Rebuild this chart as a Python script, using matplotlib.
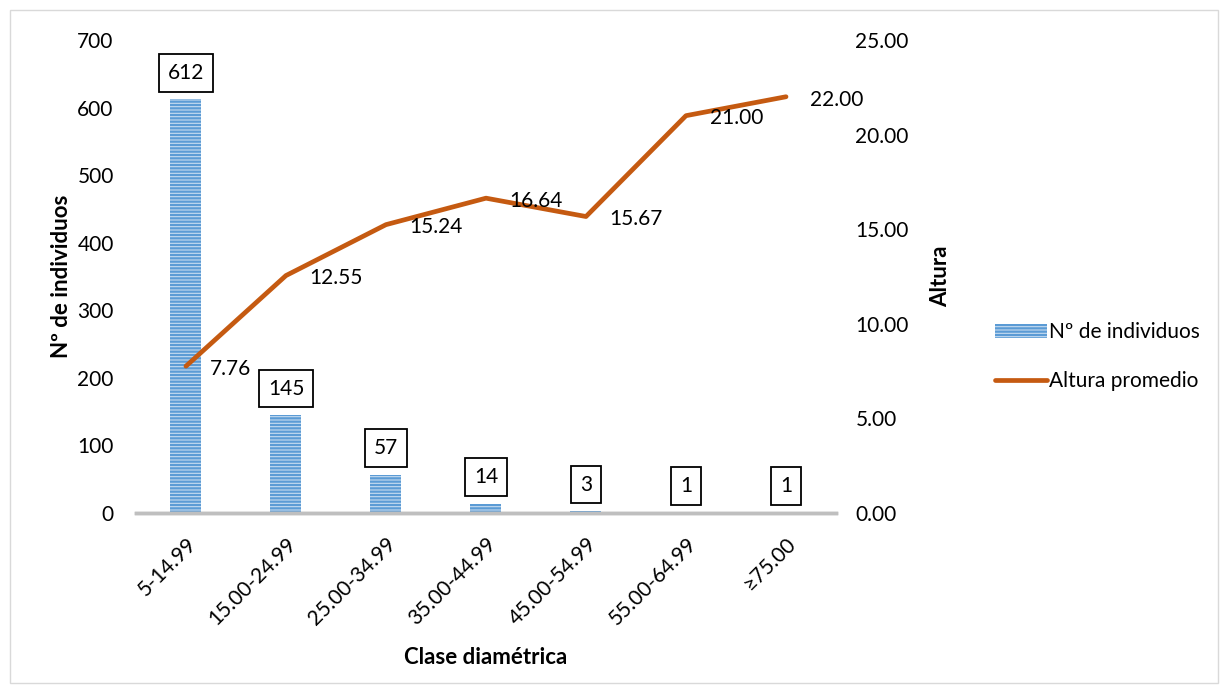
import matplotlib
matplotlib.use("Agg")
import matplotlib.pyplot as plt
from matplotlib.patches import Rectangle
from matplotlib.ticker import FormatStrFormatter

categories = ["5-14.99", "15.00-24.99", "25.00-34.99", "35.00-44.99",
              "45.00-54.99", "55.00-64.99", "≥75.00"]
individuos = [612, 145, 57, 14, 3, 1, 1]
altura = [7.76, 12.55, 15.24, 16.64, 15.67, 21.00, 22.00]

plt.rcParams['font.family'] = ['Lato', 'DejaVu Sans']
plt.rcParams['hatch.color'] = '#5b9bd5'
plt.rcParams['hatch.linewidth'] = 1.6

FS = 15
FT = 16

fig = plt.figure(figsize=(12.28, 6.93), dpi=100)
ax = fig.add_axes([0.1107, 0.2597, 0.5701, 0.6826])
ax2 = ax.twinx()

x = list(range(len(categories)))
bars = ax.bar(x, individuos, width=0.31, color='#c6dcf0', hatch='-----',
              edgecolor='#5b9bd5', linewidth=0, label='Nº de individuos')
ax.set_ylim(0, 700)
ax.set_xlim(-0.5, 6.5)
ax.set_yticks(range(0, 701, 100))
ax.set_xticks(x)
ax.set_xticklabels(categories, rotation=45, ha='right', rotation_mode='anchor', fontsize=FS)

for xi, v in zip(x, individuos):
    ax.annotate(str(v), (xi, v), xytext=(0, 19), textcoords='offset points',
                ha='center', va='center', fontsize=FS,
                bbox=dict(boxstyle='square,pad=0.42', fc='white', ec='black', lw=1.3))

line, = ax2.plot(x, altura, color='#c55a11', linewidth=3.4, label='Altura promedio',
                 solid_capstyle='round', zorder=3)
ax2.set_ylim(0, 25)
ax2.set_yticks([0, 5, 10, 15, 20, 25])
ax2.yaxis.set_major_formatter(FormatStrFormatter('%.2f'))
for xi, v in zip(x, altura):
    ax2.annotate(f"{v:.2f}", (xi, v), xytext=(17, -2), textcoords='offset points',
                 ha='left', va='center', fontsize=FS)

for a in (ax, ax2):
    for s in ('top', 'left', 'right'):
        a.spines[s].set_visible(False)
    a.spines['bottom'].set_color('#bfbfbf')
    a.spines['bottom'].set_linewidth(2.5)
    a.tick_params(axis='both', length=0, labelsize=FS, pad=8)
ax.tick_params(axis='x', pad=15)
ax.tick_params(axis='y', pad=16)
ax2.tick_params(axis='y', pad=14)

ax.set_ylabel('Nº de individuos', fontsize=FT, fontweight='bold', labelpad=4)
ax2.set_ylabel('Altura', fontsize=FT, fontweight='bold', labelpad=15)
ax.set_xlabel('Clase diamétrica', fontsize=FT, fontweight='bold', labelpad=13)

fig.legend(handles=[bars, line], labels=['Nº de individuos', 'Altura promedio'],
           loc='center left', bbox_to_anchor=(0.795, 0.485), frameon=False,
           fontsize=FS, handlelength=2.5, handletextpad=0.1, labelspacing=1.4)

fig.patches.append(Rectangle((0.008, 0.014), 0.984, 0.972, transform=fig.transFigure,
                             fill=False, ec='#d9d9d9', lw=1))

fig.savefig('out.png', dpi=100)
